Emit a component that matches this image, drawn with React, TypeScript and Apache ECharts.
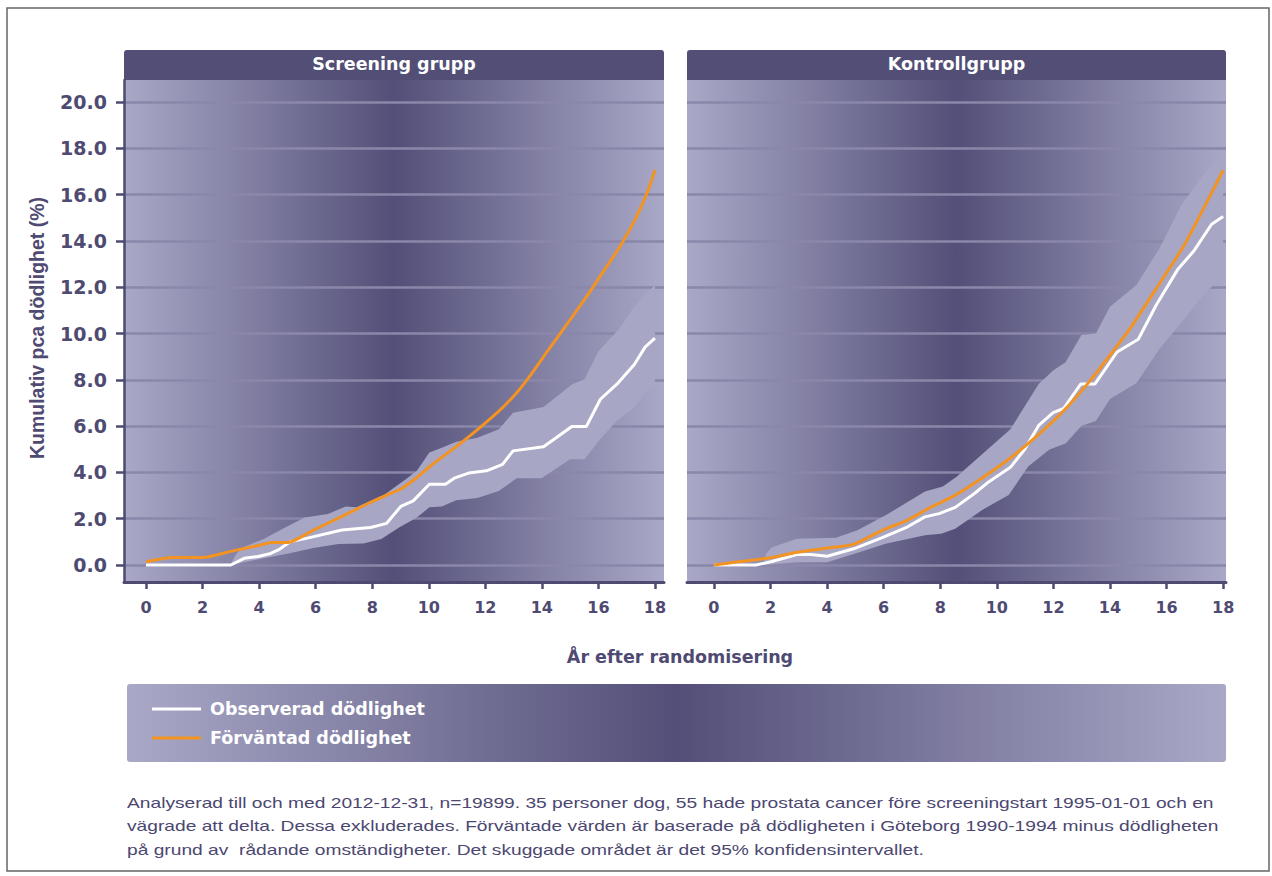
import React, { useEffect, useRef } from "react";
import * as echarts from "echarts";

// ---------- data ----------
const xTicks = [0, 2, 4, 6, 8, 10, 12, 14, 16, 18];
const yTicks = [0, 2, 4, 6, 8, 10, 12, 14, 16, 18, 20];
const panelTitles = ["Screening grupp", "Kontrollgrupp"];
const seriesNames = ["Observerad dödlighet", "Förväntad dödlighet"];
const xAxisName = "År efter randomisering";
const yAxisName = "Kumulativ pca dödlighet (%)";
const footnoteLines = [
  "Analyserad till och med 2012-12-31, n=19899. 35 personer dog, 55 hade prostata cancer före screeningstart 1995-01-01 och en",
  "vägrade att delta. Dessa exkluderades. Förväntade värden är baserade på dödligheten i Göteborg 1990-1994 minus dödligheten",
  "på grund av  rådande omständigheter. Det skuggade området är det 95% konfidensintervallet.",
];

// Screening group
const screenObserved = [
  [0, 0], [3.0, 0], [3.47, 0.29], [3.97, 0.37], [4.41, 0.5], [4.73, 0.69], [5.11, 1.01],
  [5.67, 1.15], [6.93, 1.51], [7.94, 1.62], [8.51, 1.8], [9.01, 2.53], [9.45, 2.77],
  [10.02, 3.49], [10.59, 3.49], [10.9, 3.75], [11.41, 3.97], [12.04, 4.07], [12.61, 4.35],
  [12.98, 4.93], [14.06, 5.11], [15.06, 5.98], [15.57, 5.98], [16.07, 7.16], [16.7, 7.87],
  [17.27, 8.66], [17.65, 9.41], [18.0, 9.8],
];
const screenExpected = [
  [0, 0.14], [0.95, 0.32], [2.02, 0.32], [3.03, 0.6], [4.0, 0.85], [4.45, 0.97], [5.0, 0.97],
  [5.99, 1.55], [6.93, 2.1], [7.69, 2.56], [8.45, 2.99], [9.01, 3.28], [9.58, 3.78],
  [10.08, 4.3], [11.22, 5.35], [12.48, 6.65], [13.11, 7.44], [13.6, 8.2], [14.23, 9.29],
  [14.99, 10.58], [15.58, 11.59], [16.17, 12.67], [16.76, 13.75], [17.35, 15.05],
  [17.76, 16.2], [18.0, 17.06],
];
const screenUpper = [
  [3.0, 0.05], [3.2, 0.5], [3.47, 0.79], [4.16, 1.12], [4.92, 1.62], [5.61, 2.05], [6.43, 2.2],
  [7.06, 2.53], [7.44, 2.49], [8.45, 3.06], [9.2, 3.71], [9.58, 4.07], [10.02, 4.86],
  [10.46, 5.07], [10.97, 5.32], [11.72, 5.5], [12.48, 5.86], [12.98, 6.58], [14.06, 6.82],
  [15.06, 7.8], [15.51, 8.02], [16.01, 9.24], [16.76, 10.24], [17.27, 11.18], [17.71, 11.75],
  [18.0, 12.1],
];
const screenLower = [
  [3.0, 0], [4.16, 0.29], [5.04, 0.5], [5.92, 0.73], [6.81, 0.91], [7.69, 0.93], [8.32, 1.12],
  [8.95, 1.62], [9.58, 2.05], [10.02, 2.49], [10.46, 2.53], [10.97, 2.8], [11.72, 2.89],
  [12.48, 3.2], [13.11, 3.75], [13.99, 3.75], [15.0, 4.57], [15.51, 4.57], [16.01, 5.36],
  [16.64, 6.22], [17.27, 6.8], [17.71, 7.51], [18.0, 7.73],
];

// Control group
const controlObserved = [
  [0, 0], [1.48, 0], [2.05, 0.15], [2.93, 0.45], [3.43, 0.45], [4.0, 0.38], [4.94, 0.7],
  [5.95, 1.18], [6.83, 1.64], [7.46, 2.08], [7.96, 2.22], [8.53, 2.49], [9.22, 3.1],
  [9.72, 3.6], [10.48, 4.22], [10.98, 4.99], [11.48, 6.03], [11.99, 6.58], [12.36, 6.76],
  [12.97, 7.82], [13.47, 7.82], [14.25, 9.2], [15.0, 9.75], [15.64, 11.24], [16.39, 12.76],
  [16.96, 13.56], [17.59, 14.72], [18.0, 15.05],
];
const controlExpected = [
  [0, 0], [0.92, 0.15], [1.99, 0.31], [2.93, 0.55], [4.0, 0.73], [4.94, 0.89], [5.95, 1.5],
  [6.83, 1.93], [7.58, 2.44], [8.53, 3.02], [9.47, 3.75], [10.48, 4.62], [11.48, 5.64],
  [12.36, 6.66], [13.25, 7.89], [14.0, 9.06], [14.75, 10.29], [15.76, 12.18], [16.64, 13.85],
  [17.39, 15.6], [18.0, 17.06],
];
const controlUpper = [
  [1.75, 0.05], [1.85, 0.5], [2.05, 0.77], [2.93, 1.13], [4.31, 1.18], [5.07, 1.5],
  [6.07, 2.15], [7.46, 3.17], [8.09, 3.39], [8.59, 3.82], [9.47, 4.77], [10.48, 5.86],
  [11.48, 7.82], [11.99, 8.4], [12.43, 8.76], [12.99, 9.93], [13.5, 10.0], [14.0, 11.16],
  [14.94, 12.11], [15.76, 13.7], [16.51, 15.52], [17.14, 16.61], [18.0, 17.92],
];
const controlLower = [
  [1.75, 0], [2.93, 0.12], [4.0, 0.12], [4.94, 0.48], [6.07, 0.92], [7.46, 1.28],
  [8.03, 1.35], [8.53, 1.57], [9.47, 2.37], [10.42, 3.02], [11.11, 4.26], [11.86, 4.99],
  [12.43, 5.25], [12.99, 6.0], [13.5, 6.22], [14.0, 7.17], [14.94, 7.86], [15.76, 9.35],
  [16.51, 10.44], [17.26, 11.6], [18.0, 12.54],
];

// ---------- style ----------
const LIGHT = "#a9a8c7";
const DARK = "#534f78";
const AXIS = "#4e4a72";
const HEADER = "#524e76";
const BAND = "#a7a6c4";
const ORANGE = "#f39321";
const GRIDLINE = "#8a87aa";

const grad = () =>
  new echarts.graphic.LinearGradient(0, 0, 1, 0, [
    { offset: 0, color: LIGHT },
    { offset: 0.5, color: DARK },
    { offset: 1, color: LIGHT },
  ]);

const panels = [
  { left: 124, width: 540, xMin: -0.78, xMax: 18.32 },
  { left: 687, width: 539, xMin: -0.95, xMax: 18.1 },
];
const GRID_TOP = 80;
const GRID_H = 502;
const Y_MIN = -0.734;
const Y_MAX = 20.95;

function bandSeries(idx: number, upper: number[][], lower: number[][]) {
  return {
    type: "custom",
    xAxisIndex: idx,
    yAxisIndex: idx,
    silent: true,
    z: 2,
    clip: true,
    data: [[upper[0][0], upper[0][1]]],
    renderItem: (_p: any, api: any) => {
      const pts = upper
        .map((d) => api.coord(d))
        .concat(lower.slice().reverse().map((d) => api.coord(d)));
      return { type: "polygon", shape: { points: pts }, style: { fill: BAND } };
    },
  };
}

function lineSeries(idx: number, name: string, data: number[][], color: string, z: number, smooth: number) {
  return {
    type: "line",
    name,
    xAxisIndex: idx,
    yAxisIndex: idx,
    data,
    showSymbol: false,
    symbol: "none",
    smooth,
    silent: true,
    z,
    color,
    itemStyle: { color },
    lineStyle: { color, width: 3 },
  };
}

export default function App() {
  const ref = useRef<HTMLDivElement>(null);
  useEffect(() => {
    const chart = echarts.init(ref.current!, null, { renderer: "svg" });
    const graphics: any[] = [
      {
        type: "rect",
        shape: { x: 7, y: 8, width: 1262, height: 863 },
        style: { fill: "none", stroke: "#666", lineWidth: 1.5 },
        z: -2,
      },
    ];
    panels.forEach((p, i) => {
      graphics.push({
        type: "rect",
        shape: { x: p.left, y: GRID_TOP, width: p.width, height: GRID_H },
        style: { fill: grad() },
        z: -1,
      });
      graphics.push({
        type: "rect",
        shape: { x: p.left, y: 50, width: p.width, height: 30, r: [3, 3, 0, 0] },
        style: { fill: HEADER },
        z: -1,
      });
      graphics.push({
        type: "text",
        style: {
          text: panelTitles[i],
          x: p.left + p.width / 2,
          y: 64,
          fill: "#ffffff",
          font: 'bold 17.5px "DejaVu Sans"',
          textAlign: "center",
          textVerticalAlign: "middle",
        },
        z: 5,
      });
    });
    // legend box
    graphics.push({
      type: "rect",
      shape: { x: 127, y: 684, width: 1099, height: 78, r: 3 },
      style: { fill: grad() },
      z: -1,
    });
    // axis names
    graphics.push({
      type: "text",
      style: {
        text: xAxisName,
        x: 680,
        y: 657,
        fill: AXIS,
        font: 'bold 17.5px "DejaVu Sans"',
        textAlign: "center",
        textVerticalAlign: "middle",
      },
    });
    graphics.push({
      type: "text",
      x: 37,
      y: 328,
      rotation: Math.PI / 2,
      style: {
        text: yAxisName,
        x: 0,
        y: 0,
        fill: AXIS,
        font: 'bold 19.5px "Liberation Sans"',
        textAlign: "center",
        textVerticalAlign: "middle",
      },
    });
    footnoteLines.forEach((t, i) => {
      graphics.push({
        type: "text",
        x: 127,
        y: [803, 826, 850][i],
        scaleX: 1.28,
        style: {
          text: t,
          x: 0,
          y: 0,
          fill: "#4b4770",
          font: '15px "Liberation Sans"',
          textAlign: "left",
          textVerticalAlign: "middle",
        },
      });
    });

    const option: any = {
      animation: false,
      backgroundColor: "#ffffff",
      grid: panels.map((p) => ({
        left: p.left,
        top: GRID_TOP,
        width: p.width,
        height: GRID_H,
        containLabel: false,
      })),
      xAxis: panels.map((p, i) => ({
        type: "value",
        gridIndex: i,
        min: p.xMin,
        max: p.xMax,
        axisLine: { show: true, onZero: false, lineStyle: { color: AXIS, width: 3 } },
        axisTick: {
          show: true,
          customValues: xTicks,
          length: 7,
          lineStyle: { color: AXIS, width: 2.5 },
        },
        axisLabel: {
          show: true,
          customValues: xTicks,
          margin: 17,
          color: AXIS,
          fontFamily: "DejaVu Sans",
          fontWeight: "bold",
          fontSize: 16,
          formatter: (v: number) => String(v),
        },
        splitLine: { show: false },
      })),
      yAxis: panels.map((p, i) => ({
        type: "value",
        gridIndex: i,
        min: Y_MIN,
        max: Y_MAX,
        axisLine: { show: i === 0, onZero: false, lineStyle: { color: AXIS, width: 2.5 } },
        axisTick: {
          show: i === 0,
          customValues: yTicks,
          length: 8,
          lineStyle: { color: AXIS, width: 2.5 },
        },
        axisLabel: {
          show: i === 0,
          customValues: yTicks,
          margin: 17,
          color: AXIS,
          fontFamily: "DejaVu Sans",
          fontWeight: "bold",
          fontSize: 19,
          formatter: (v: number) => v.toFixed(1),
        },
        splitLine: { show: true, lineStyle: { color: GRIDLINE, width: 2.5 } },
      })),
      legend: {
        left: 147,
        top: 694,
        orient: "vertical",
        icon: "rect",
        itemWidth: 49,
        itemHeight: 3,
        itemGap: 9,
        selectedMode: false,
        data: seriesNames,
        textStyle: {
          color: "#ffffff",
          fontFamily: "DejaVu Sans",
          fontWeight: "bold",
          fontSize: 17.5,
          lineHeight: 20,
          padding: [0, 0, 0, 4],
        },
      },
      graphic: { elements: graphics },
      series: [
        bandSeries(0, screenUpper, screenLower),
        lineSeries(0, seriesNames[0], screenObserved, "#ffffff", 3, 0),
        lineSeries(0, seriesNames[1], screenExpected, ORANGE, 4, 0.2),
        bandSeries(1, controlUpper, controlLower),
        lineSeries(1, seriesNames[0], controlObserved, "#ffffff", 3, 0),
        lineSeries(1, seriesNames[1], controlExpected, ORANGE, 4, 0.2),
      ],
    };
    chart.setOption(option);
    return () => chart.dispose();
  }, []);
  return (
    <div
      ref={ref}
      style={{ position: "fixed", left: 0, top: 0, width: 1272, height: 876, background: "#fff" }}
    />
  );
}
